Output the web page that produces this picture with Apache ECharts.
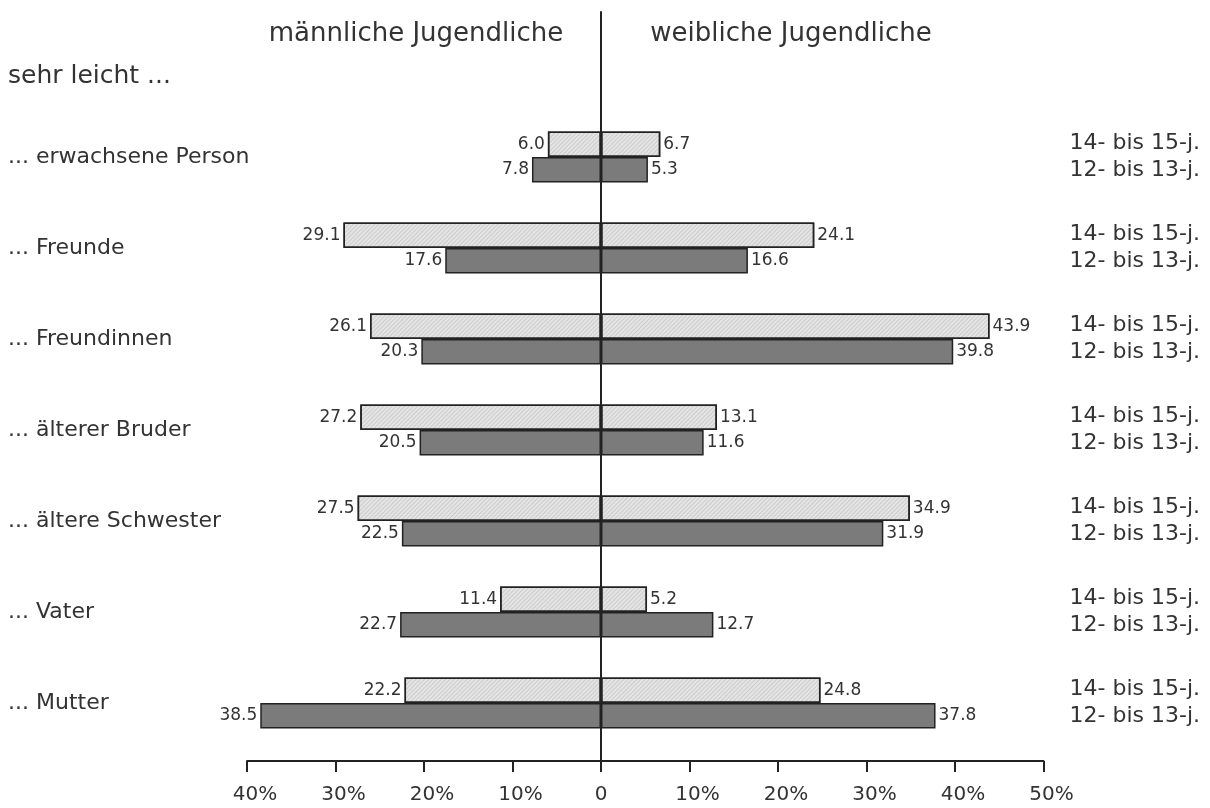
<!DOCTYPE html>
<html>
<head>
<meta charset="utf-8">
<script src="https://cdn.jsdelivr.net/npm/echarts@6/dist/echarts.min.js"></script>
<style>
html,body{margin:0;padding:0;background:#fff;}
#chart{width:1210px;height:808px;}
</style>
</head>
<body>
<div id="chart"></div>
<script>
// ---- data ----
const categories = ['... erwachsene Person', '... Freunde', '... Freundinnen', '... älterer Bruder', '... ältere Schwester', '... Vater', '... Mutter'];
const male14to15 = [6.0, 29.1, 26.1, 27.2, 27.5, 11.4, 22.2];
const female14to15 = [6.7, 24.1, 43.9, 13.1, 34.9, 5.2, 24.8];
const male12to13 = [7.8, 17.6, 20.3, 20.5, 22.5, 22.7, 38.5];
const female12to13 = [5.3, 16.6, 39.8, 11.6, 31.9, 12.7, 37.8];
const ageLabels = ['14- bis 15-j.', '12- bis 13-j.'];
const titleLeft = 'männliche Jugendliche';
const titleRight = 'weibliche Jugendliche';
const subtitle = 'sehr leicht ...';

const FONT = '"DejaVu Sans", "Liberation Sans", Arial, sans-serif';
const TXT = '#333';
const LIGHT = '#e4e4e4';
const DARK = '#7b7b7b';
const BORDER = '#222';

const chart = echarts.init(document.getElementById('chart'), null, {renderer: 'canvas'});

const hatch = {
  symbol: 'rect',
  color: 'rgba(0,0,0,0.10)',
  dashArrayX: [1, 0],
  dashArrayY: [1, 2],
  rotation: -Math.PI / 4,
  symbolSize: 1
};

function valLabel(pos) {
  return {
    show: true,
    position: pos,
    distance: 3,
    fontFamily: FONT,
    fontSize: 17,
    color: TXT,
    formatter: p => Math.abs(p.value).toFixed(1)
  };
}

function barSeries(values, sign, stack, color, pos, decal) {
  return {
    type: 'bar',
    xAxisIndex: 0,
    yAxisIndex: 0,
    stack: stack,
    barWidth: 25.5,
    barGap: '0%',
    data: values.map(v => sign * v),
    itemStyle: {color: color, borderColor: BORDER, borderWidth: 1.5, decal: decal},
    label: valLabel(pos),
    silent: true,
    animation: false
  };
}

const option = {
  backgroundColor: '#fff',
  animation: false,
  aria: {enabled: false},
  title: [
    {text: titleLeft, left: 416, top: 21, textAlign: 'center', padding: 0,
     textStyle: {fontFamily: FONT, fontSize: 26, fontWeight: 'normal', color: TXT}},
    {text: titleRight, left: 791, top: 21, textAlign: 'center', padding: 0,
     textStyle: {fontFamily: FONT, fontSize: 26, fontWeight: 'normal', color: TXT}},
    {text: subtitle, left: 8, top: 64, padding: 0,
     textStyle: {fontFamily: FONT, fontSize: 25, fontWeight: 'normal', color: TXT}}
  ],
  grid: [
    {left: 247, right: 166.5, top: 111.5, height: 637},
    {left: 247, right: 166.5, top: 12, height: 749}
  ],
  xAxis: [
    {gridIndex: 0, type: 'value', min: -40, max: 50, interval: 10, show: false},
    {gridIndex: 1, type: 'value', min: -40, max: 50, interval: 10,
     axisLine: {show: true, onZero: false, lineStyle: {color: BORDER, width: 2}},
     axisTick: {show: true, length: 11, lineStyle: {color: BORDER, width: 2}},
     splitLine: {show: false},
     axisLabel: {margin: 24, fontFamily: FONT, fontSize: 20, color: TXT,
       formatter: v => v === 0 ? '0' : '{p|' + Math.abs(v) + '%}',
       rich: {p: {fontFamily: FONT, fontSize: 20, color: TXT, padding: [0, 0, 0, 16]}}}}
  ],
  yAxis: [
    {gridIndex: 0, type: 'category', data: categories, inverse: true,
     axisLine: {show: false}, axisTick: {show: false}, splitLine: {show: false},
     axisLabel: {align: 'left', margin: 239, fontFamily: FONT, fontSize: 22, color: TXT}},
    {gridIndex: 0, type: 'category', data: categories, inverse: true, position: 'right',
     axisLine: {show: false}, axisTick: {show: false}, splitLine: {show: false},
     axisLabel: {align: 'left', margin: 26, fontFamily: FONT, fontSize: 22, color: TXT,
       lineHeight: 27, formatter: () => ageLabels.join('\n')}},
    {gridIndex: 1, type: 'value', min: 0, max: 1,
     axisLine: {show: true, onZero: true, lineStyle: {color: BORDER, width: 2}},
     axisTick: {show: false}, axisLabel: {show: false}, splitLine: {show: false}}
  ],
  series: [
    barSeries(male14to15, -1, 'young_old', LIGHT, 'left', hatch),
    barSeries(female14to15, 1, 'young_old', LIGHT, 'right', hatch),
    barSeries(male12to13, -1, 'young', DARK, 'left', null),
    barSeries(female12to13, 1, 'young', DARK, 'right', null),
    {type: 'line', xAxisIndex: 1, yAxisIndex: 2, data: [], silent: true}
  ]
};
chart.setOption(option);
</script>
</body>
</html>
